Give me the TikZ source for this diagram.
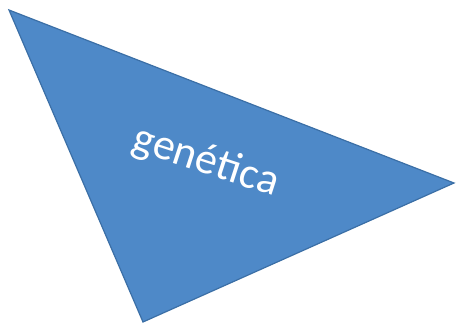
\documentclass[tikz,border=0pt]{standalone}
\usepackage{fontspec}
\setmainfont{Carlito}
\begin{document}
\begin{tikzpicture}[x=1pt,y=-1pt,
  tri/.style={fill=triblue,draw=triedge,line width=1.2pt,line join=miter},
  lbl/.style={text=white,font=\fontsize{44}{50}\selectfont,inner sep=0pt}]
\definecolor{triblue}{HTML}{4E89C8}
\definecolor{triedge}{HTML}{3B6FA6}
\useasboundingbox (0,0) rectangle (458,332);
\coordinate (A) at (9,10);
\coordinate (B) at (454,183);
\coordinate (C) at (143,322);
\draw[tri] (A) -- (B) -- (C) -- cycle;
\node[lbl,rotate=-18] (t) at (206,162) {genética};
\end{tikzpicture}
\end{document}
